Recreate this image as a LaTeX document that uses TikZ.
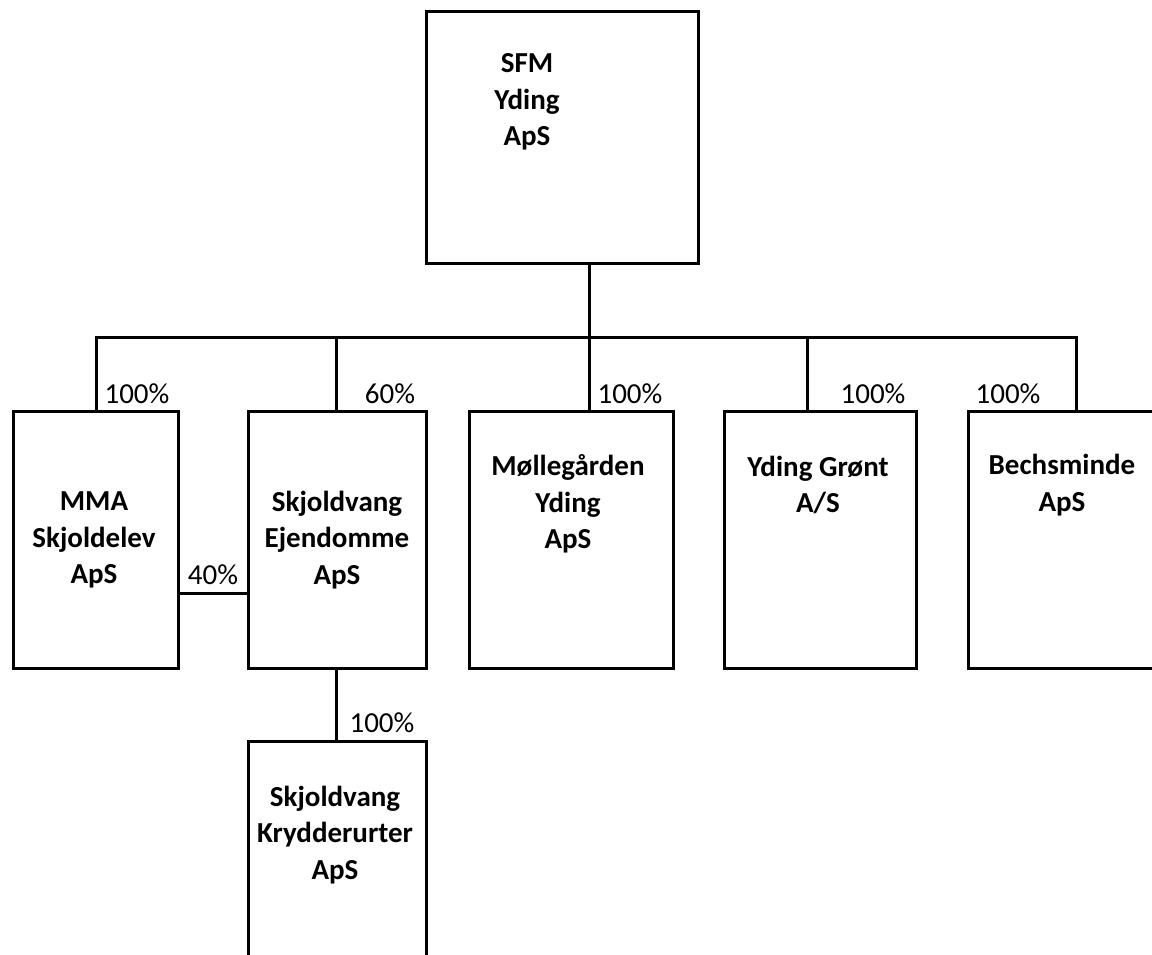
\documentclass[tikz,border=0pt]{standalone}
\usepackage{fontspec}
\setmainfont{Carlito}
\begin{document}
\begin{tikzpicture}[x=1pt,y=-1pt,
  orgbox/.style={draw=black,line width=3pt,rectangle,inner sep=0pt,anchor=north west,fill=white},
  orgname/.style={font=\bfseries\fontsize{29}{36.6}\selectfont,align=center,inner sep=0pt,anchor=center},
  pct/.style={font=\fontsize{29}{34}\selectfont,inner sep=0pt,anchor=center},
  conn/.style={draw=black,line width=3pt}]
\useasboundingbox (0,0) rectangle (1152,955);
% boxes
\node[orgbox,minimum width=272pt,minimum height=252pt] (top) at (425,10) {};
\node[orgbox,minimum width=165pt,minimum height=257pt] (mma) at (12,410) {};
\node[orgbox,minimum width=178pt,minimum height=257pt] (ejd) at (247,410) {};
\node[orgbox,minimum width=204pt,minimum height=257pt] (mol) at (468,410) {};
\node[orgbox,minimum width=192pt,minimum height=257pt] (ygr) at (723,410) {};
\node[orgbox,minimum width=200pt,minimum height=257pt] (bech) at (967,410) {};
\node[orgbox,minimum width=178pt,minimum height=260pt] (kry) at (247,740) {};
% names
\node[orgname] (topt) at (527,102) {SFM\\Yding\\ApS};
\node[orgname] (mmat) at (94,540) {MMA\\Skjoldelev\\ApS};
\node[orgname] (ejdt) at (337,540) {Skjoldvang\\Ejendomme\\ApS};
\node[orgname] (molt) at (568,504) {Møllegården\\Yding\\ApS};
\node[orgname] (ygrt) at (818,485) {Yding Grønt\\A/S};
\node[orgname] (becht) at (1062,485) {Bechsminde\\ApS};
\node[orgname] (kryt) at (335,835) {Skjoldvang\\Krydderurter\\ApS};
% connectors
\coordinate (busL) at (95,337);
\coordinate (vtop) at ([xshift=27pt]top.south);
\coordinate (vmol) at ([xshift=18pt]mol.north);
\coordinate (vygr) at ([xshift=-13pt]ygr.north);
\coordinate (vbech) at ([xshift=8pt]bech.north);
\coordinate (vejd) at ([xshift=-1pt]ejd.north);
\coordinate (lnk) at (0,593);
\draw[conn] (vtop) -- (vmol);
\draw[conn] (mma.north) |- (vbech |- busL) -- (vbech);
\draw[conn] (vejd |- busL) -- (vejd);
\draw[conn] (vygr |- busL) -- (vygr);
\draw[conn] (mma.east |- lnk) -- (ejd.west |- lnk);
\draw[conn] ([xshift=-1pt]ejd.south) -- ([xshift=-1pt]ejd.south |- kry.north);
% percentages
\node[pct] (p1) at (137,394) {100\%};
\node[pct] (p2) at (390,394) {60\%};
\node[pct] (p3) at (630,394) {100\%};
\node[pct] (p4) at (873,394) {100\%};
\node[pct] (p5) at (1008,394) {100\%};
\node[pct] (p6) at (213,575) {40\%};
\node[pct] (p7) at (382,723) {100\%};
\end{tikzpicture}
\end{document}
